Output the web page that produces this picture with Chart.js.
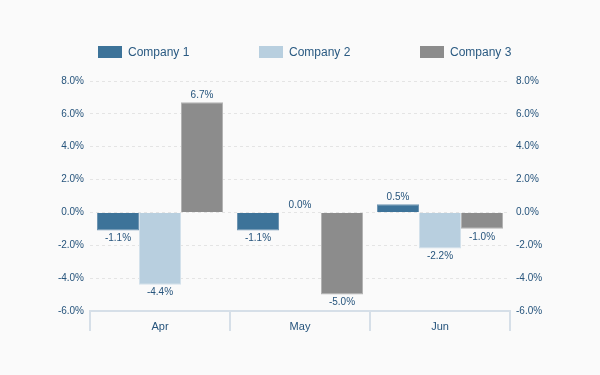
<!DOCTYPE html>
<html>
<head>
<meta charset="utf-8">
<title>Company growth by month</title>
<script src="https://cdn.jsdelivr.net/npm/chart.js@4.4.1/dist/chart.umd.min.js"></script>
<style>
  html, body { margin: 0; padding: 0; background: #fafafa; }
  #wrap { position: relative; width: 600px; height: 375px; font-family: "Liberation Sans", Arial, sans-serif; }
  #legend { position: absolute; top: 45px; left: 0; width: 600px; height: 14px; }
  .item { position: absolute; top: 0; display: flex; align-items: center; font-size: 12px; color: #2a5a82; }
  .swatch { width: 24px; height: 12px; margin-right: 6px; }
  canvas { position: absolute; top: 0; left: 0; }
</style>
</head>
<body>
<div id="wrap">
  <canvas id="chart" width="600" height="375"></canvas>
  <div id="legend"></div>
</div>
<script>
// --- data ---
const months = ['Apr', 'May', 'Jun'];
const seriesNames = ['Company 1', 'Company 2', 'Company 3'];
const company1 = [-1.1, -1.1, 0.5];
const company2 = [-4.4, 0.0, -2.2];
const company3 = [6.7, -5.0, -1.0];
const yTicks = [-6, -4, -2, 0, 2, 4, 6, 8];

const colors = ['#3d7399', '#b8cfdf', '#8c8c8c'];
const edges = ['#6f95b2', '#d3e1eb', '#b3b3b3'];
const textBlue = '#26547c';
const legendX = [98, 259, 420];

// html legend, spread out like the original
const legend = document.getElementById('legend');
seriesNames.forEach((name, i) => {
    const item = document.createElement('div');
    item.className = 'item';
    item.style.left = legendX[i] + 'px';
    item.innerHTML = `<span class="swatch" style="background:${colors[i]}"></span><span>${name}</span>`;
    legend.appendChild(item);
});

const fmt = v => Number(v).toFixed(1) + '%';

// value labels above / below each bar
const valueLabels = {
    id: 'valueLabels',
    afterDatasetsDraw(chart) {
        const ctx = chart.ctx;
        ctx.save();
        ctx.font = '10px "Liberation Sans", Arial, sans-serif';
        ctx.fillStyle = textBlue;
        ctx.textAlign = 'center';
        chart.data.datasets.forEach((ds, di) => {
            chart.getDatasetMeta(di).data.forEach((bar, i) => {
                const v = ds.data[i];
                if (v >= 0) {
                    ctx.textBaseline = 'bottom';
                    ctx.fillText(fmt(v), bar.x, bar.y - 2);
                } else {
                    ctx.textBaseline = 'top';
                    ctx.fillText(fmt(v), bar.x, bar.y + 3);
                }
            });
        });
        ctx.restore();
    }
};

const yAxis = (pos) => ({
    position: pos,
    min: yTicks[0],
    max: yTicks[yTicks.length - 1],
    afterBuildTicks: axis => { axis.ticks = yTicks.map(v => ({ value: v })); },
    afterFit: axis => { axis.width = 90; },
    grid: pos === 'left'
        ? { color: '#e4e4e4', lineWidth: 1, drawTicks: false }
        : { display: false, drawTicks: false },
    border: { display: false, dash: [3, 3] },
    ticks: {
        padding: 6,
        color: textBlue,
        font: { size: 10, family: '"Liberation Sans", Arial, sans-serif' },
        callback: v => fmt(v)
    }
});

new Chart(document.getElementById('chart'), {
    type: 'bar',
    data: {
        labels: months,
        datasets: [company1, company2, company3].map((d, i) => ({
            label: seriesNames[i],
            data: d,
            backgroundColor: colors[i],
            borderColor: edges[i],
            borderWidth: 1,
            categoryPercentage: 0.9,
            barPercentage: 1.0,
            yAxisID: 'y'
        }))
    },
    options: {
        responsive: false,
        animation: false,
        layout: { padding: { left: 0, right: 0, top: 81, bottom: 30 } },
        plugins: {
            legend: { display: false },
            tooltip: { enabled: false }
        },
        scales: {
            x: {
                afterFit: axis => { axis.height = 34; },
                grid: {
                    offset: true,
                    drawOnChartArea: false,
                    drawTicks: true,
                    tickLength: 20,
                    color: '#d6dfe8',
                    lineWidth: 2
                },
                border: { display: true, color: '#d6dfe8', width: 2 },
                ticks: {
                    padding: -11,
                    color: textBlue,
                    font: { size: 11, family: '"Liberation Sans", Arial, sans-serif' }
                }
            },
            y: yAxis('left'),
            y2: yAxis('right')
        }
    },
    plugins: [valueLabels]
});
</script>
</body>
</html>
